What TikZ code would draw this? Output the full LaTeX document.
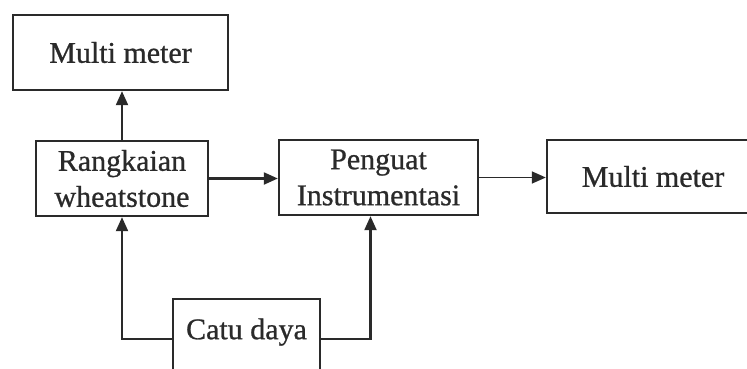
\documentclass[tikz,border=0pt]{standalone}
\usepackage{fontspec}
\setmainfont{Liberation Serif}[FakeBold=0.8]
\usetikzlibrary{arrows.meta}
\definecolor{ink}{HTML}{2A2A2A}
\begin{document}
\begin{tikzpicture}[x=1pt,y=-1pt,
  blok/.style={draw=ink,line width=2.4pt,rectangle,inner sep=0pt,align=center,
    text=ink,font=\fontsize{30}{36}\selectfont},
  arr/.style={draw=ink,line width=2.2pt,-{Triangle[length=14pt,width=12pt]}},
  arrthin/.style={arr,line width=1.5pt}]
\useasboundingbox[fill=white] (0,0) rectangle (747,369);

\node[blok,minimum width=215pt,minimum height=75pt] (mm1) at (120.5,52.5) {Multi meter};
\node[blok,minimum width=172pt,minimum height=75pt] (rang) at (122,178.5) {Rangkaian\\wheatstone};
\node[blok,minimum width=199pt,minimum height=75pt] (peng) at (378.5,177.5) {Penguat\\Instrumentasi};
\node[blok,minimum width=212pt,minimum height=73pt] (mm2) at (653,176.5) {Multi meter};
\node[blok,minimum width=147pt,text height=40pt,text depth=52pt,anchor=north] (catu) at (246.5,298) {Catu daya};

\draw[arr] (rang.north) -- (rang.north |- mm1.south);
\draw[arr] (rang.east) -- (rang.east -| peng.west);
\draw[arrthin] (peng.east) -- (peng.east -| mm2.west);
\draw[arr] (catu.base west) -| (rang.south);
\draw[arr] (catu.base east) -| ([xshift=-8pt]peng.south);
\end{tikzpicture}
\end{document}
